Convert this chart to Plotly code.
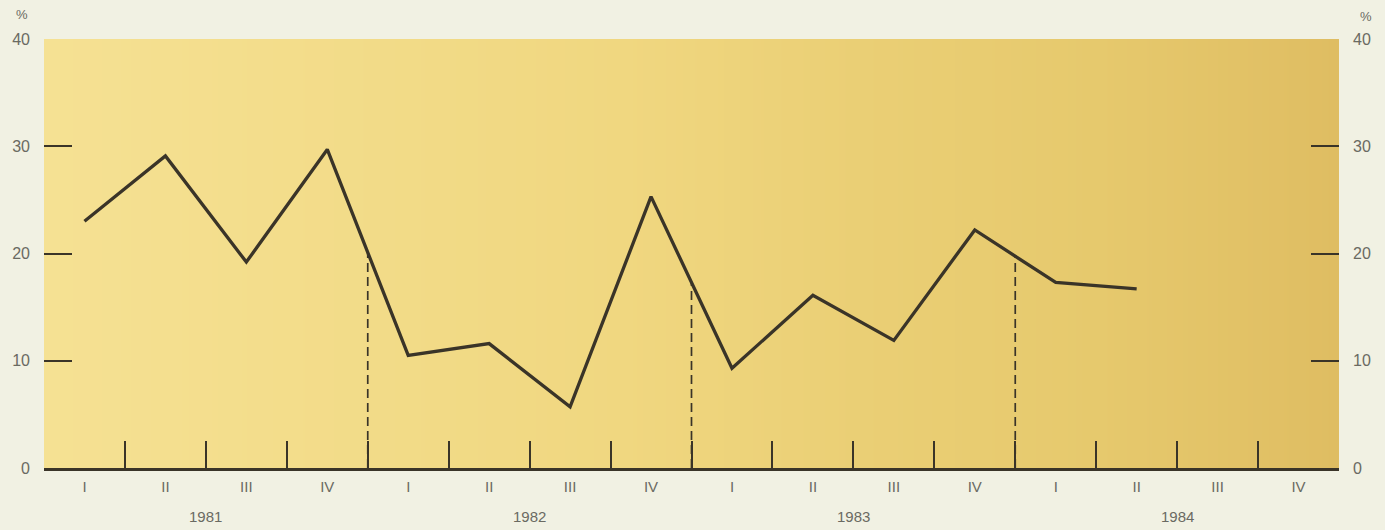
import plotly.graph_objects as go

# quarterly series, 1981 Q1 .. 1984 Q2 (percent)
quarters = ["I", "II", "III", "IV"]
years = ["1981", "1982", "1983", "1984"]
values = [23.0, 29.1, 19.2, 29.7,
          10.5, 11.6, 5.7, 25.3,
          9.3, 16.1, 11.9, 22.2,
          17.3, 16.7]
y_ticks = [0, 10, 20, 30, 40]
y_marks = [10, 20, 30]

n_q = len(years) * len(quarters)
centers = [i + 0.5 for i in range(n_q)]
bounds = list(range(1, n_q))
year_bounds = [4, 8, 12]

ink = "#3a3428"
label_col = "#6a6a62"
font_fam = "Liberation Sans, Arial, sans-serif"
page_col = "#f1f1e3"

fig = go.Figure()

# panel background gradient (decorative)
fig.add_trace(go.Heatmap(
    x=[0, 5, 10, 16], y=[0, 40], z=[[0, 0.35, 0.7, 1], [0, 0.35, 0.7, 1]],
    zsmooth="best", showscale=False, hoverinfo="skip",
    colorscale=[[0, "#f5e193"], [0.5, "#f0d780"], [0.85, "#e6c96d"], [1, "#dfbd62"]],
))

# dashed year separators, up to where the line crosses
for b in year_bounds:
    top = (values[b - 1] + values[b]) / 2
    fig.add_trace(go.Scatter(
        x=[b, b], y=[0, top], mode="lines", yaxis="y2",
        line=dict(color=ink, width=1.7, dash="9px,5px"),
        showlegend=False, hoverinfo="skip",
    ))

fig.add_trace(go.Scatter(
    x=centers[:len(values)], y=values, mode="lines",
    line=dict(color=ink, width=3.3),
    showlegend=False,
))

yax = dict(
    range=[0, 40], tickvals=y_ticks, ticks="", showgrid=False, zeroline=False,
    showline=False, tickfont=dict(family=font_fam, size=16, color=label_col),
    ticklabelstandoff=13,
    minor=dict(tickvals=y_marks, ticks="inside", ticklen=28, tickwidth=1.6,
               tickcolor=ink, showgrid=False),
    fixedrange=True,
)

fig.update_layout(
    width=1385, height=530,
    margin=dict(l=41, r=46, t=39, b=62),
    paper_bgcolor=page_col,
    plot_bgcolor="#f0d780",
    showlegend=False,
    xaxis=dict(
        range=[0, n_q], tickvals=centers, ticktext=quarters * len(years),
        ticks="", showgrid=False, zeroline=False,
        showline=True, linecolor=ink, linewidth=2.5,
        tickfont=dict(family=font_fam, size=15, color=label_col),
        ticklabelstandoff=3,
        minor=dict(tickvals=bounds, ticks="inside", ticklen=27, tickwidth=2,
                   tickcolor=ink, showgrid=False),
        fixedrange=True,
    ),
    yaxis=dict(side="left", **yax),
    yaxis2=dict(side="right", overlaying="y", **yax),
)

for i, yr in enumerate(years):
    fig.add_annotation(
        x=i * 4 + 2, y=0, xref="x", yref="paper", yshift=-48,
        xanchor="center", yanchor="middle",
        text=yr, showarrow=False,
        font=dict(family=font_fam, size=15, color=label_col),
    )

fig.add_annotation(x=0, y=1, xref="paper", yref="paper", xshift=-22, yshift=25,
                   xanchor="center", yanchor="middle",
                   text="%", showarrow=False,
                   font=dict(family=font_fam, size=13, color=label_col))
fig.add_annotation(x=1, y=1, xref="paper", yref="paper", xshift=27, yshift=23,
                   xanchor="center", yanchor="middle",
                   text="%", showarrow=False,
                   font=dict(family=font_fam, size=13, color=label_col))

fig.write_html(
    "out.html",
    config={"displayModeBar": False},
    post_script="document.body.style.margin='0';"
                "document.body.style.background='" + page_col + "';",
)
